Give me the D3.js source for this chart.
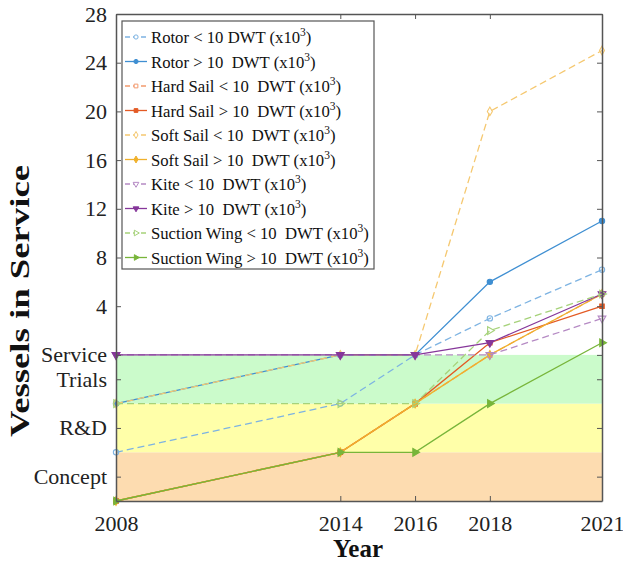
<!DOCTYPE html>
<html><head><meta charset="utf-8">
<script src="https://cdn.jsdelivr.net/npm/d3@7"></script>
<style>body{margin:0;background:#fff}svg{display:block;font-family:"Liberation Serif","Times New Roman",serif}</style>
</head><body><svg id="c" width="623" height="561"></svg>
<script>
const years = [2008, 2014, 2016, 2018, 2021];
const seriesNames = ["Rotor < 10 DWT", "Rotor > 10  DWT", "Hard Sail < 10  DWT", "Hard Sail > 10  DWT",
  "Soft Sail < 10  DWT", "Soft Sail > 10  DWT", "Kite < 10  DWT", "Kite > 10  DWT",
  "Suction Wing < 10  DWT", "Suction Wing > 10  DWT"];
const rotorSmall   = [-8, -4, 0, 3, 7];
const rotorLarge   = [-4, 0, 0, 6, 11];
const hardSmall    = [-12, -8, -4, 0, 5];
const hardLarge    = [-12, -8, -4, 1, 4];
const softSmall    = [-4, 0, 0, 20, 25];
const softLarge    = [-12, -8, -4, 0, 5];
const kiteSmall    = [0, 0, 0, 0, 3];
const kiteLarge    = [0, 0, 0, 1, 5];
const suctionSmall = [-4, -4, -4, 2, 5];
const suctionLarge = [-12, -8, -8, -4, 1];
const seriesValues = [rotorSmall, rotorLarge, hardSmall, hardLarge, softSmall, softLarge, kiteSmall, kiteLarge, suctionSmall, suctionLarge];
const seriesColors = ["#7db3e2", "#3f8fd2", "#f29a6e", "#e35a24", "#f5c870", "#f0b12c", "#b58ac4", "#86379a", "#a6d27a", "#78b53a"];
const seriesDashed = [true, false, true, false, true, false, true, false, true, false];
const seriesMarker = ["circle", "circle", "square", "square", "diamond", "diamond", "triDown", "triDown", "triRight", "triRight"];
const seriesFilled = [false, true, false, true, false, true, false, true, false, true];
const yTickValues = [-10, -6, -2, 0, 4, 8, 12, 16, 20, 24, 28];
const yTickLabels = ["Concept", "R&D", "Trials", "Service", "4", "8", "12", "16", "20", "24", "28"];
const xTickValues = [2008, 2014, 2016, 2018, 2021];
const bands = [{from: -12, to: -8, color: "#fddcb0"}, {from: -8, to: -4, color: "#ffffa9"}, {from: -4, to: 0, color: "#cbfbcb"}];

const svg = d3.select("#c");
const L = 116, R = 602, T = 14, B = 501;
const x = d3.scaleLinear().domain([2008, 2021]).range([L, R]);
const y = d3.scaleLinear().domain([-12, 28]).range([B, T]);

svg.selectAll("rect.band").data(bands).join("rect")
  .attr("x", L).attr("width", R - L)
  .attr("y", d => y(d.to)).attr("height", d => y(d.from) - y(d.to))
  .attr("fill", d => d.color);

const sym = {
  circle: d3.symbol().type(d3.symbolCircle).size(22),
  square: d3.symbol().type(d3.symbolSquare).size(20),
  diamond: d3.symbol().type(d3.symbolDiamond).size(22),
  triDown: d3.symbol().type(d3.symbolTriangle).size(26),
  triRight: d3.symbol().type(d3.symbolTriangle).size(26)
};
const rot = {circle: 0, square: 0, diamond: 0, triDown: 180, triRight: 90};

const line = d3.line().x((d, i) => x(years[i])).y(d => y(d));
seriesValues.forEach((vals, k) => {
  const g = svg.append("g");
  g.append("path").datum(vals).attr("d", line).attr("fill", "none")
    .attr("stroke", seriesColors[k]).attr("stroke-width", 1.3)
    .attr("stroke-dasharray", seriesDashed[k] ? "7,4" : null);
  g.selectAll("path.m").data(vals).join("path").attr("class", "m")
    .attr("d", sym[seriesMarker[k]]())
    .attr("transform", (d, i) => `translate(${x(years[i])},${y(d)}) rotate(${rot[seriesMarker[k]]})`)
    .attr("fill", seriesFilled[k] ? seriesColors[k] : "none")
    .attr("stroke", seriesColors[k]).attr("stroke-width", 1.1);
});

const axCol = "#555";
const yLeft = d3.axisLeft(y).tickValues(yTickValues).tickFormat((d, i) => yTickLabels[i]).tickSizeInner(-5).tickSizeOuter(0).tickPadding(9);
const yRight = d3.axisRight(y).tickValues(yTickValues).tickFormat("").tickSizeInner(-5).tickSizeOuter(0);
const xBot = d3.axisBottom(x).tickValues(xTickValues).tickFormat(d3.format("d")).tickSizeInner(-5).tickSizeOuter(0).tickPadding(14);
const xTop = d3.axisTop(x).tickValues(xTickValues).tickFormat("").tickSizeInner(-5).tickSizeOuter(0);
function style(g) {
  g.select(".domain").attr("stroke", axCol).attr("stroke-width", 1.5);
  g.selectAll(".tick line").attr("stroke", axCol).attr("stroke-width", 1);
  g.selectAll(".tick text").attr("fill", "#222").attr("font-size", 22).attr("font-family", "Liberation Serif, serif");
}
svg.append("g").attr("transform", `translate(${L},0)`).call(yLeft).call(style);
svg.append("g").attr("transform", `translate(${R},0)`).call(yRight).call(style);
svg.append("g").attr("transform", `translate(0,${B})`).call(xBot).call(style);
svg.append("g").attr("transform", `translate(0,${T})`).call(xTop).call(style);

svg.append("text").attr("x", 358).attr("y", 557).attr("text-anchor", "middle")
  .attr("font-size", 25).attr("font-weight", "bold").attr("fill", "#111").text("Year");
svg.append("text").attr("transform", "translate(29,301) rotate(-90)").attr("text-anchor", "middle")
  .attr("font-size", 27).attr("font-weight", "bold").attr("fill", "#111")
  .attr("textLength", 272).attr("lengthAdjust", "spacingAndGlyphs").text("Vessels in Service");

const lx = 122, ly = 21, lw = 252, lh = 248, rowH = 24.5;
svg.append("rect").attr("x", lx).attr("y", ly).attr("width", lw).attr("height", lh)
  .attr("fill", "#fff").attr("stroke", "#555").attr("stroke-width", 1.2);
seriesNames.forEach((name, k) => {
  const cy = ly + 16 + k * rowH;
  svg.append("line").attr("x1", lx + 3).attr("x2", lx + 25).attr("y1", cy).attr("y2", cy)
    .attr("stroke", seriesColors[k]).attr("stroke-width", 1.3)
    .attr("stroke-dasharray", seriesDashed[k] ? "5,3" : null);
  svg.append("path").attr("d", sym[seriesMarker[k]].size(14)())
    .attr("transform", `translate(${lx + 14},${cy}) rotate(${rot[seriesMarker[k]]})`)
    .attr("fill", seriesFilled[k] ? seriesColors[k] : "#fff")
    .attr("stroke", seriesColors[k]).attr("stroke-width", 1);
  const t = svg.append("text").attr("x", lx + 29).attr("y", cy + 6).attr("font-size", 16.7)
    .attr("fill", "#111").style("white-space", "pre");
  t.append("tspan").text(name + " (x10");
  t.append("tspan").attr("font-size", 11.5).attr("dy", -7).text("3");
  t.append("tspan").attr("dy", 7).text(")");
});
</script></body></html>
